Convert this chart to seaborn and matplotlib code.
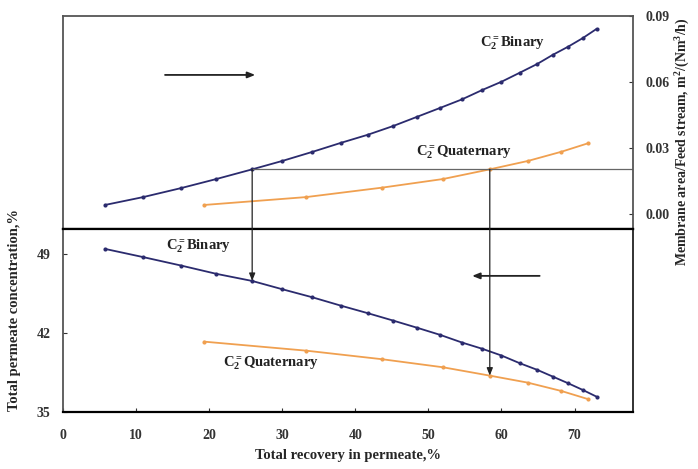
import matplotlib
matplotlib.use("Agg")
import matplotlib.pyplot as plt
from matplotlib.patches import ConnectionPatch
import seaborn as sns
import numpy as np

# ---- data ----
binary_x = [5.75, 11.0, 16.2, 21.0, 25.9, 30.0, 34.1, 38.0, 41.7, 45.2, 48.4,
            51.6, 54.6, 57.4, 60.0, 62.5, 64.9, 67.0, 69.1, 71.1, 73.0]
binary_area = [0.0041, 0.0077, 0.0118, 0.0159, 0.0203, 0.0241, 0.0282, 0.0323,
               0.0360, 0.0400, 0.0441, 0.0482, 0.0521, 0.0564, 0.0601, 0.0642,
               0.0682, 0.0723, 0.0760, 0.0799, 0.0841]
binary_conc = [49.44, 48.71, 47.96, 47.23, 46.6, 45.87, 45.16, 44.42, 43.75,
               43.09, 42.47, 41.83, 41.15, 40.59, 40.00, 39.32, 38.73, 38.14,
               37.55, 36.96, 36.36]

quat_x = [19.3, 33.3, 43.7, 52.0, 58.4, 63.6, 68.2, 71.8]
quat_area = [0.0041, 0.0077, 0.0120, 0.0159, 0.0203, 0.0241, 0.0283, 0.0321]
quat_conc = [41.23, 40.43, 39.67, 38.96, 38.22, 37.60, 36.86, 36.15]

x_ticks = [0, 10, 20, 30, 40, 50, 60, 70]
area_ticks = [0.00, 0.03, 0.06, 0.09]
conc_ticks = [35, 42, 49]

sns.set_style("white")
plt.rcParams['font.family'] = ['Liberation Serif', 'DejaVu Serif']
plt.rcParams['font.weight'] = 'bold'
plt.rcParams['mathtext.fontset'] = 'custom'
plt.rcParams['mathtext.rm'] = 'Liberation Serif:bold'
plt.rcParams['mathtext.it'] = 'Liberation Serif:italic:bold'
plt.rcParams['mathtext.bf'] = 'Liberation Serif:bold'

navy = '#2b2b6e'
orange = '#f0a050'
frame = '#555555'

fig = plt.figure(figsize=(6.98, 4.69), dpi=100)
gs = fig.add_gridspec(2, 1, height_ratios=[213, 183], hspace=0,
                      left=0.090, right=0.907, bottom=0.1215, top=0.966)
ax1 = fig.add_subplot(gs[0])
ax2 = fig.add_subplot(gs[1], sharex=ax1)

# top panel: membrane area (right axis)
sns.lineplot(x=binary_x, y=binary_area, ax=ax1, color=navy, lw=1.3,
             marker='o', markersize=3.0, markeredgewidth=0, markerfacecolor=navy)
sns.lineplot(x=quat_x, y=quat_area, ax=ax1, color=orange, lw=1.3,
             marker='o', markersize=3.0, markeredgewidth=0, markerfacecolor=orange)
ax1.set_xlim(0, 78)
ax1.set_ylim(-0.0068, 0.09)
ax1.yaxis.tick_right()
ax1.yaxis.set_label_position('right')
ax1.set_yticks(area_ticks)
ax1.set_yticklabels([f"{v:.2f}" for v in area_ticks])
ax1.tick_params(axis='y', direction='in', length=3, pad=9, labelsize=10,
                right=True, left=False, colors='#333333')
ax1.tick_params(axis='x', bottom=False, labelbottom=False)
ax1.set_ylabel(r"Membrane area/Feed stream, m$^2$/(Nm$^3$/h)", fontsize=10,
               fontweight='bold')
ax1.yaxis.set_label_coords(1.072, 0.41)

# bottom panel: permeate concentration (left axis)
sns.lineplot(x=binary_x, y=binary_conc, ax=ax2, color=navy, lw=1.3,
             marker='o', markersize=3.0, markeredgewidth=0, markerfacecolor=navy)
sns.lineplot(x=quat_x, y=quat_conc, ax=ax2, color=orange, lw=1.3,
             marker='o', markersize=3.0, markeredgewidth=0, markerfacecolor=orange)
ax2.set_ylim(35, 51.2)
ax2.set_yticks(conc_ticks)
ax2.set_xticks(x_ticks)
ax2.tick_params(axis='y', direction='in', length=3, pad=9, labelsize=10,
                left=True, right=False, colors='#333333')
ax2.tick_params(axis='x', direction='in', length=3, pad=12, labelsize=10,
                bottom=True, colors='#333333')
ax2.set_ylabel("Total permeate concentration,%", fontsize=10.5, fontweight='bold')
ax2.yaxis.set_label_coords(-0.074, 0.56)
ax2.set_xlabel("Total recovery in permeate,%", fontsize=10.5, fontweight='bold',
               labelpad=5)

for ax in (ax1, ax2):
    for s in ax.spines.values():
        s.set_color(frame)
        s.set_linewidth(1.3)
    ax.grid(False)
ax1.spines['bottom'].set_color('black')
ax1.spines['bottom'].set_linewidth(1.6)
ax2.spines['top'].set_color('black')
ax2.spines['top'].set_linewidth(1.6)
ax2.spines['bottom'].set_color('black')
ax2.spines['bottom'].set_linewidth(1.6)
ax2.spines['right'].set_color('#222222')

# guide lines
ax1.plot([binary_x[4], 78], [binary_area[4], binary_area[4]],
         color='#666666', lw=0.9)
for xv, ya, yc in [(binary_x[4], binary_area[4], binary_conc[4]),
                   (quat_x[4], quat_area[4], quat_conc[4])]:
    con = ConnectionPatch(xyA=(xv, ya), coordsA=ax1.transData,
                          xyB=(xv, yc), coordsB=ax2.transData,
                          arrowstyle='-|>,head_length=0.45,head_width=0.18',
                          color='#222222', lw=0.9)
    fig.add_artist(con)

# direction arrows
ax1.annotate('', xy=(26.7, 0.0632), xytext=(13.6, 0.0632),
             arrowprops=dict(arrowstyle='-|>,head_length=0.45,head_width=0.18',
                             color='#222222', lw=1.3))
ax2.annotate('', xy=(55.6, 47.05), xytext=(65.6, 47.05),
             arrowprops=dict(arrowstyle='-|>,head_length=0.45,head_width=0.18',
                             color='#222222', lw=1.3))

# labels
lab = dict(fontsize=10.5, fontweight='bold', ha='center', va='center', color='#222222')
ax1.text(61.5, 0.0777, r"C$_2^{=}$Binary", **lab)
ax1.text(54.9, 0.0282, r"C$_2^{=}$Quaternary", **lab)
ax2.text(18.6, 49.7, r"C$_2^{=}$Binary", **lab)
ax2.text(28.5, 39.34, r"C$_2^{=}$Quaternary", **lab)

fig.savefig("out.png", dpi=100)
